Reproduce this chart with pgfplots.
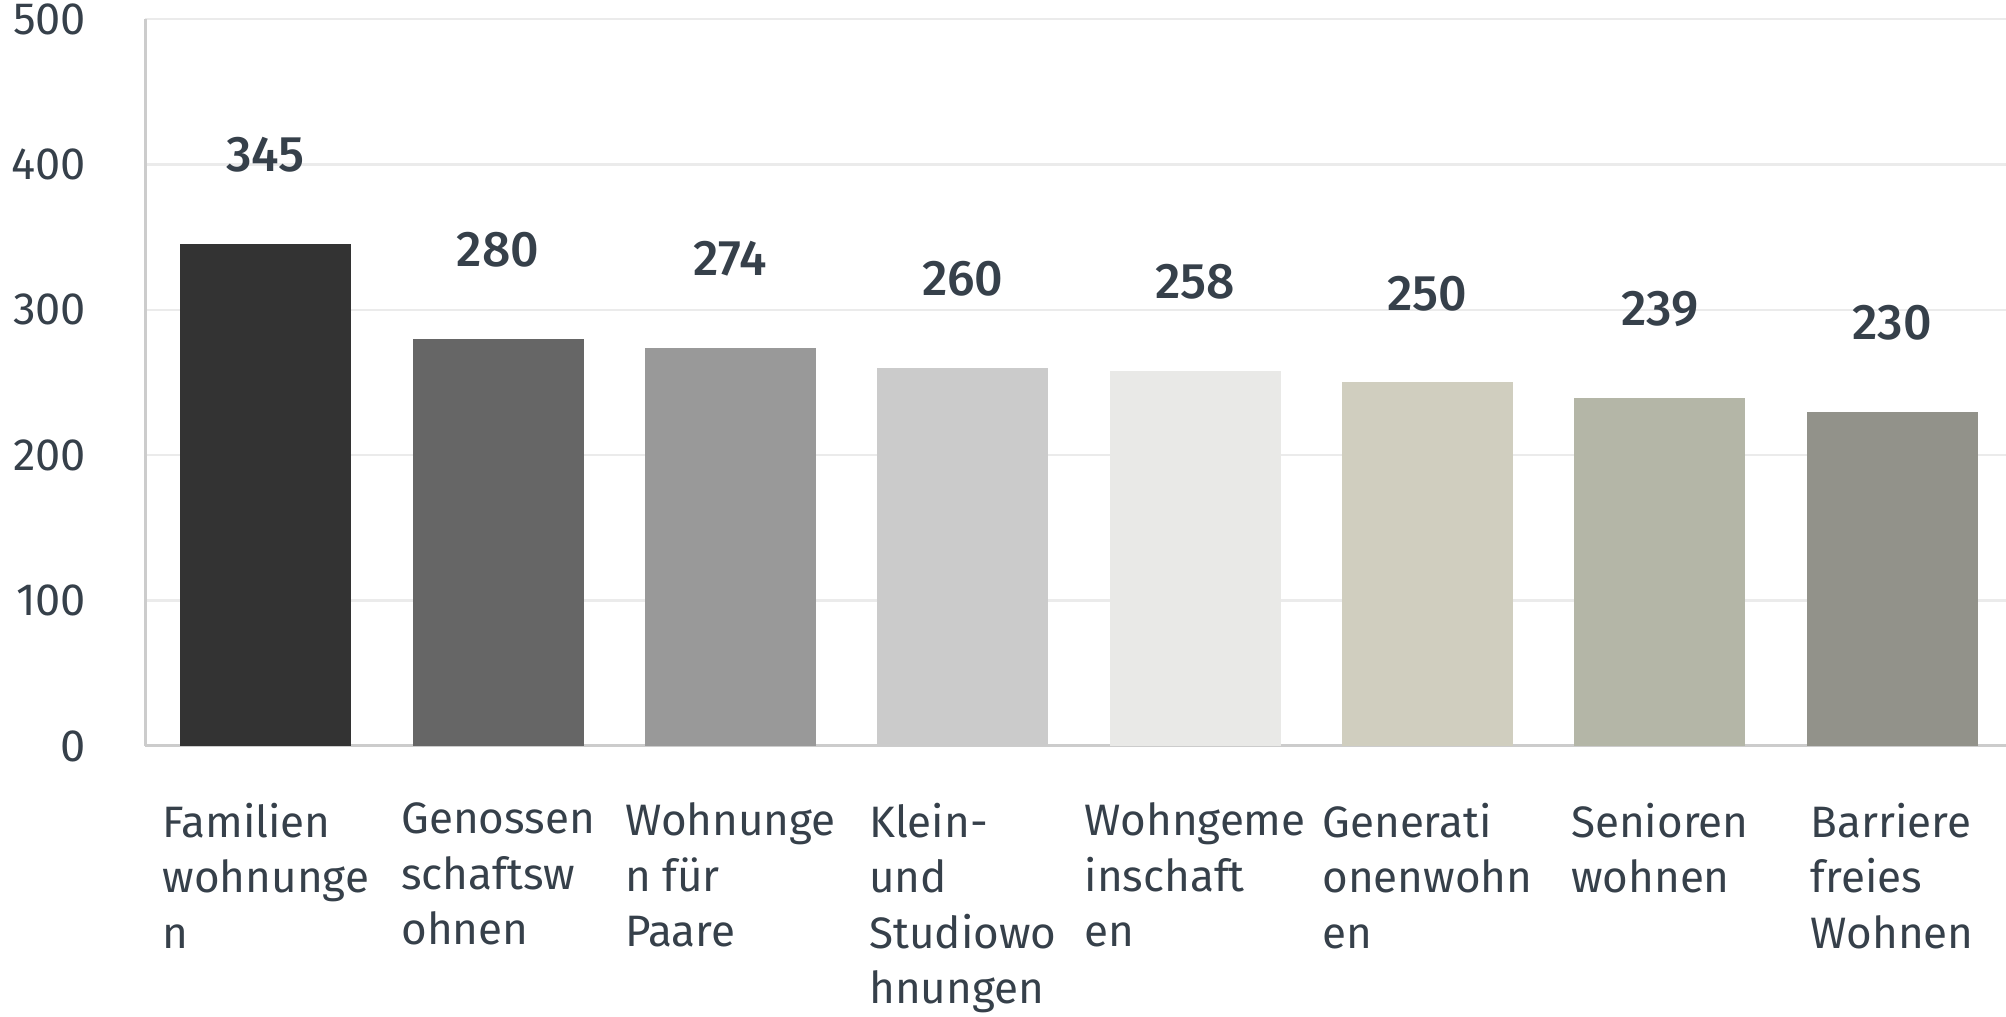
\documentclass[border=0pt]{standalone}
\usepackage{pgfplots}
\pgfplotsset{compat=1.18}
\usepackage{fontspec}
\setmainfont{Fira Sans}
\newfontfamily\medfont{Fira Sans Medium}
\definecolor{txt}{HTML}{36404A}
\definecolor{gridc}{HTML}{EBEBEB}
\definecolor{axc}{HTML}{CCCCCC}
\definecolor{c1}{HTML}{333333}
\definecolor{c2}{HTML}{666666}
\definecolor{c3}{HTML}{999999}
\definecolor{c4}{HTML}{CBCBCB}
\definecolor{c5}{HTML}{E9E9E7}
\definecolor{c6}{HTML}{D0CEBF}
\definecolor{c7}{HTML}{B4B6A7}
\definecolor{c8}{HTML}{92928A}
\begin{document}
\begin{tikzpicture}
\useasboundingbox (0,0) rectangle (501.5pt,254.25pt);
\begin{axis}[
  at={(36.25pt,67.75pt)}, anchor=south west,
  scale only axis, width=465.25pt, height=181.75pt,
  ybar, bar width=42.75pt, bar shift=0pt,
  xmin=-0.52, xmax=7.49, ymin=0, ymax=500,
  ytick={0,100,200,300,400,500},
  xtick={0,1,2,3,4,5,6,7},
  xticklabels={{Familien\\wohnunge\\n},{Genossen\\schaftsw\\ohnen},{Wohnunge\\n für\\Paare},{Klein-\\und\\Studiowo\\hnungen},{Wohngeme\\inschaft\\en},{Generati\\onenwohn\\en},{Senioren\\wohnen},{Barriere\\freies\\Wohnen}},
  axis lines*=left,
  axis line style={color=axc, line width=0.75pt},
  ymajorgrids, grid style={color=gridc, line width=0.6pt},
  major tick length=0pt,
  /pgf/number format/assume math mode=true,
  x tick label style={anchor=north, inner sep=0pt, yshift=-14pt, align=left, font=\fontsize{11}{13.9}\selectfont, text=txt},
  y tick label style={anchor=east, inner sep=0pt, xshift=-14.5pt, font=\fontsize{11.3}{13.9}\selectfont, text=txt},
  nodes near coords,
  every node near coord/.append style={font=\medfont\fontsize{12.5}{14}\selectfont, text=txt, anchor=center, yshift=22.3pt},
]
\addplot[fill=c1, draw=none] coordinates {(0,345)};
\addplot[fill=c2, draw=none] coordinates {(1,280)};
\addplot[fill=c3, draw=none] coordinates {(2,274)};
\addplot[fill=c4, draw=none] coordinates {(3,260)};
\addplot[fill=c5, draw=none] coordinates {(4,258)};
\addplot[fill=c6, draw=none] coordinates {(5,250)};
\addplot[fill=c7, draw=none] coordinates {(6,239)};
\addplot[fill=c8, draw=none] coordinates {(7,230)};
\end{axis}
\end{tikzpicture}
\end{document}
